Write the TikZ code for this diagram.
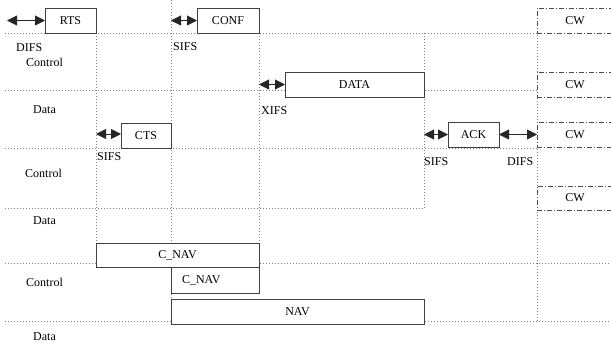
\documentclass[tikz,border=0pt]{standalone}
\usepackage{fontspec}
\setmainfont{Liberation Serif}
\usetikzlibrary{arrows.meta}
\begin{document}
\begin{tikzpicture}[
  x=1pt, y=-1pt,
  font=\fontsize{12}{14}\selectfont,
  frame/.style={draw=black!75, fill=white, line width=0.9pt, inner sep=0pt, outer sep=0pt, minimum height=25pt, anchor=north west},
  cwbox/.style={frame, draw=black!70, dash pattern=on 5pt off 2pt on 1pt off 2pt, minimum width=76pt},
  grid/.style={draw=black!50, line width=0.7pt, dash pattern=on 0.7pt off 2.3pt},
  tag/.style={inner sep=0pt, anchor=west},
  gap/.style={{Triangle[length=10pt,width=10pt]}-{Triangle[length=10pt,width=10pt]}, line width=0.9pt, black!85}]
\useasboundingbox (0,0) rectangle (611,343);
\draw[grid] (5,33) -- (537,33);
\draw[grid] (5,90) -- (537,90);
\draw[grid] (5,148) -- (537,148);
\draw[grid] (5,208) -- (424,208);
\draw[grid] (5,263) -- (611,263);
\draw[grid] (5,321) -- (611,321);
\draw[grid] (96,33) -- (96,243);
\draw[grid] (171,0) -- (171,299);
\draw[grid] (259,33) -- (259,243);
\draw[grid] (424,33) -- (424,208);
\draw[grid] (537,8) -- (537,322);
\node[frame, minimum width=51pt] (rts) at (45,8) {RTS};
\node[frame, minimum width=62pt] (conf) at (197,8) {CONF};
\node[frame, minimum width=139pt] (data) at (285,72) {DATA};
\node[frame, minimum width=50pt] (cts) at (121,123) {CTS};
\node[frame, minimum width=51pt] (ack) at (448,122) {ACK};
\node[cwbox] (cw1) at (537,8) {CW};
\node[cwbox] (cw2) at (537,72) {CW};
\node[cwbox] (cw3) at (537,122) {CW};
\node[cwbox, minimum height=24pt] (cw4) at (537,186) {CW};
\node[frame, minimum width=163pt, minimum height=24pt] (cnav1) at (96,243) {C\_NAV};
\node[frame, minimum height=26pt, text width=66pt, align=left, inner xsep=11pt] (cnav2) at (171,267) {C\_NAV};
\node[frame, minimum width=253pt] (nav) at (171,299) {NAV};
\coordinate (rts0) at (7,20.5);
\coordinate (conf0) at (171,20.5);
\coordinate (data0) at (259,84.5);
\coordinate (cts0) at (96,134);
\coordinate (ack0) at (424,134.5);
\draw[gap] (rts0) -- (rts.west);
\draw[gap] (conf0) -- (conf.west);
\draw[gap] (data0) -- (data.west);
\draw[gap] (cts0) -- (cts.west |- cts0);
\draw[gap] (ack0) -- (ack.west);
\draw[gap] (ack.east) -- (cw3.west);
\node[tag] (difs1) at (16,48) {DIFS};
\node[tag] (ctl1) at (26,62) {Control};
\node[tag] (dat1) at (33,110) {Data};
\node[tag] (sifs1) at (173,47) {SIFS};
\node[tag] (xifs) at (261,111) {XIFS};
\node[tag] (sifs2) at (97,157) {SIFS};
\node[tag] (ctl2) at (25,173) {Control};
\node[tag] (dat2) at (33,221) {Data};
\node[tag] (sifs3) at (424,162) {SIFS};
\node[tag] (difs2) at (507,162) {DIFS};
\node[tag] (ctl3) at (26,282) {Control};
\node[tag] (dat3) at (33,337) {Data};
\end{tikzpicture}
\end{document}
